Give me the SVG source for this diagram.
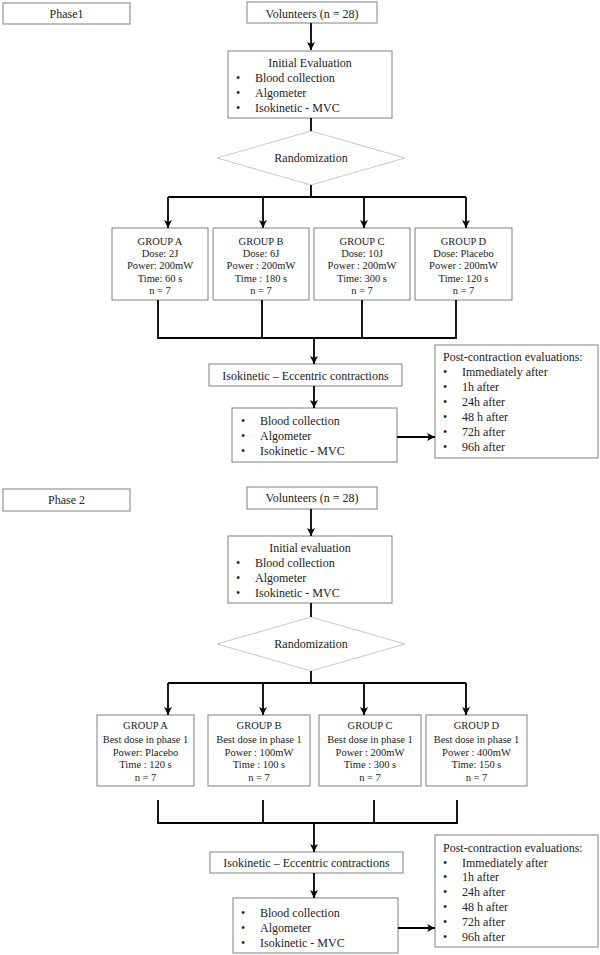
<svg xmlns="http://www.w3.org/2000/svg" width="600" height="955" viewBox="0 0 600 955">
<defs>
<marker id="ah" markerUnits="userSpaceOnUse" markerWidth="9" markerHeight="9" refX="8" refY="4.5" orient="auto">
<path d="M0,0.5 L8,4.5 L0,8.5 L2,4.5 z" fill="#000"/>
</marker>
<style>
.box{fill:#fff;stroke:#808080;stroke-width:1}
.dia{fill:#fff;stroke:#c8c8c8;stroke-width:1}
.t{font-family:"Liberation Serif","Times New Roman",serif;font-size:12px;fill:#222}
.g{font-family:"Liberation Serif","Times New Roman",serif;font-size:10.5px;fill:#222;text-anchor:middle}
.c{text-anchor:middle}
.ln{stroke:#000;stroke-width:1.8;fill:none}
.ar{stroke:#000;stroke-width:1.8;fill:none;marker-end:url(#ah)}
</style>
</defs>
<rect width="600" height="955" fill="#fff"/>

<!-- Phase 1 nodes -->
<g id="phase1-label"><rect class="box" x="3" y="3" width="127" height="21"/><text class="t c" x="66.5" y="18">Phase1</text></g>
<g id="p1-volunteers"><rect class="box" x="247" y="2" width="130" height="21"/><text class="t c" x="312" y="17.5">Volunteers (n = 28)</text></g>
<g id="p1-initial"><rect class="box" x="228" y="51" width="164" height="67"/>
<text class="t c" x="310" y="67">Initial Evaluation</text>
<text class="t" x="236" y="82">•</text><text class="t" x="255" y="82">Blood collection</text>
<text class="t" x="236" y="97">•</text><text class="t" x="255" y="97">Algometer</text>
<text class="t" x="236" y="112">•</text><text class="t" x="255" y="112">Isokinetic - MVC</text></g>
<g id="p1-random"><polygon class="dia" points="311,131 405,158 311,185 217,158"/><text class="t c" x="311" y="162">Randomization</text></g>
<g id="p1-groupA"><rect class="box" x="112" y="228" width="96" height="72"/>
<text class="g" x="160" y="245">GROUP A</text><text class="g" x="160" y="257">Dose: 2J</text><text class="g" x="160" y="269">Power: 200mW</text><text class="g" x="160" y="282">Time: 60 s</text><text class="g" x="160" y="294">n = 7</text></g>
<g id="p1-groupB"><rect class="box" x="213" y="228" width="96" height="72"/>
<text class="g" x="261" y="245">GROUP B</text><text class="g" x="261" y="257">Dose: 6J</text><text class="g" x="261" y="269">Power : 200mW</text><text class="g" x="261" y="282">Time : 180 s</text><text class="g" x="261" y="294">n = 7</text></g>
<g id="p1-groupC"><rect class="box" x="314" y="228" width="96" height="72"/>
<text class="g" x="362" y="245">GROUP C</text><text class="g" x="362" y="257">Dose: 10J</text><text class="g" x="362" y="269">Power : 200mW</text><text class="g" x="362" y="282">Time: 300 s</text><text class="g" x="362" y="294">n = 7</text></g>
<g id="p1-groupD"><rect class="box" x="415" y="228" width="97" height="72"/>
<text class="g" x="463.5" y="245">GROUP D</text><text class="g" x="463.5" y="257">Dose: Placebo</text><text class="g" x="463.5" y="269">Power : 200mW</text><text class="g" x="463.5" y="282">Time: 120 s</text><text class="g" x="463.5" y="294">n = 7</text></g>
<g id="p1-eccentric"><rect class="box" x="209" y="364" width="193" height="22"/><text class="t c" x="305.5" y="379.5">Isokinetic – Eccentric contractions</text></g>
<g id="p1-after"><rect class="box" x="232" y="408" width="165" height="54"/>
<text class="t" x="241" y="425">•</text><text class="t" x="260" y="425">Blood collection</text>
<text class="t" x="241" y="440">•</text><text class="t" x="260" y="440">Algometer</text>
<text class="t" x="241" y="455">•</text><text class="t" x="260" y="455">Isokinetic - MVC</text></g>
<g id="p1-post"><rect class="box" x="435" y="345" width="163" height="113"/>
<text class="t" x="443" y="361">Post-contraction evaluations:</text>
<text class="t" x="443" y="376">•</text><text class="t" x="462" y="376">Immediately after</text>
<text class="t" x="443" y="391">•</text><text class="t" x="462" y="391">1h after</text>
<text class="t" x="443" y="406">•</text><text class="t" x="462" y="406">24h after</text>
<text class="t" x="443" y="421">•</text><text class="t" x="462" y="421">48 h after</text>
<text class="t" x="443" y="436">•</text><text class="t" x="462" y="436">72h after</text>
<text class="t" x="443" y="451">•</text><text class="t" x="462" y="451">96h after</text></g>

<!-- Phase 2 nodes -->
<g id="phase2-label"><rect class="box" x="3" y="489" width="127" height="22"/><text class="t c" x="66.5" y="504">Phase 2</text></g>
<g id="p2-volunteers"><rect class="box" x="247" y="487" width="130" height="22"/><text class="t c" x="312" y="502">Volunteers (n = 28)</text></g>
<g id="p2-initial"><rect class="box" x="228" y="536" width="164" height="67"/>
<text class="t c" x="310" y="552">Initial evaluation</text>
<text class="t" x="236" y="567">•</text><text class="t" x="255" y="567">Blood collection</text>
<text class="t" x="236" y="582">•</text><text class="t" x="255" y="582">Algometer</text>
<text class="t" x="236" y="597">•</text><text class="t" x="255" y="597">Isokinetic - MVC</text></g>
<g id="p2-random"><polygon class="dia" points="311,617 405,644 311,671 217,644"/><text class="t c" x="311" y="648">Randomization</text></g>
<g id="p2-groupA"><rect class="box" x="97" y="715" width="97" height="71"/>
<text class="g" x="145.5" y="728.5">GROUP A</text><text class="g" x="145.5" y="742.5">Best dose in phase 1</text><text class="g" x="145.5" y="755.5">Power: Placebo</text><text class="g" x="145.5" y="767.5">Time : 120 s</text><text class="g" x="145.5" y="780.5">n = 7</text></g>
<g id="p2-groupB"><rect class="box" x="208" y="715" width="102" height="71"/>
<text class="g" x="259" y="728.5">GROUP B</text><text class="g" x="259" y="742.5">Best dose in phase 1</text><text class="g" x="259" y="755.5">Power : 100mW</text><text class="g" x="259" y="767.5">Time : 100 s</text><text class="g" x="259" y="780.5">n = 7</text></g>
<g id="p2-groupC"><rect class="box" x="319" y="715" width="102" height="71"/>
<text class="g" x="370" y="728.5">GROUP C</text><text class="g" x="370" y="742.5">Best dose in phase 1</text><text class="g" x="370" y="755.5">Power : 200mW</text><text class="g" x="370" y="767.5">Time : 300 s</text><text class="g" x="370" y="780.5">n = 7</text></g>
<g id="p2-groupD"><rect class="box" x="426" y="715" width="101" height="71"/>
<text class="g" x="476.5" y="728.5">GROUP D</text><text class="g" x="476.5" y="742.5">Best dose in phase 1</text><text class="g" x="476.5" y="755.5">Power : 400mW</text><text class="g" x="476.5" y="767.5">Time: 150 s</text><text class="g" x="476.5" y="780.5">n = 7</text></g>
<g id="p2-eccentric"><rect class="box" x="210" y="852" width="193" height="21"/><text class="t c" x="306.5" y="867">Isokinetic – Eccentric contractions</text></g>
<g id="p2-after"><rect class="box" x="233" y="898" width="165" height="55"/>
<text class="t" x="241" y="917">•</text><text class="t" x="260" y="917">Blood collection</text>
<text class="t" x="241" y="932">•</text><text class="t" x="260" y="932">Algometer</text>
<text class="t" x="241" y="947">•</text><text class="t" x="260" y="947">Isokinetic - MVC</text></g>
<g id="p2-post"><rect class="box" x="435" y="835" width="163" height="112"/>
<text class="t" x="443" y="852">Post-contraction evaluations:</text>
<text class="t" x="443" y="867">•</text><text class="t" x="462" y="867">Immediately after</text>
<text class="t" x="443" y="881">•</text><text class="t" x="462" y="881">1h after</text>
<text class="t" x="443" y="896">•</text><text class="t" x="462" y="896">24h after</text>
<text class="t" x="443" y="911">•</text><text class="t" x="462" y="911">48 h after</text>
<text class="t" x="443" y="926">•</text><text class="t" x="462" y="926">72h after</text>
<text class="t" x="443" y="941">•</text><text class="t" x="462" y="941">96h after</text></g>

<!-- Connectors -->
<g id="connectors">
<line class="ar" x1="311" y1="23" x2="311" y2="50"/>
<line class="ln" x1="311" y1="118" x2="311" y2="131"/>
<line class="ln" x1="311" y1="185" x2="311" y2="197"/>
<polyline class="ln" points="168,197 466,197"/>
<line class="ar" x1="168" y1="197" x2="168" y2="228"/>
<line class="ar" x1="263" y1="197" x2="263" y2="228"/>
<line class="ar" x1="364" y1="197" x2="364" y2="228"/>
<line class="ar" x1="466" y1="197" x2="466" y2="228"/>
<polyline class="ln" points="158,300 158,338 456,338 456,300"/>
<line class="ln" x1="262" y1="300" x2="262" y2="338"/>
<line class="ln" x1="362" y1="300" x2="362" y2="338"/>
<line class="ar" x1="314" y1="338" x2="314" y2="364"/>
<line class="ar" x1="314" y1="386" x2="314" y2="408"/>
<line class="ar" x1="397" y1="437" x2="435" y2="437"/>

<line class="ar" x1="311" y1="509" x2="311" y2="536"/>
<line class="ln" x1="311" y1="603" x2="311" y2="617"/>
<line class="ln" x1="311" y1="671" x2="311" y2="683"/>
<polyline class="ln" points="168,683 466,683"/>
<line class="ar" x1="168" y1="683" x2="168" y2="715"/>
<line class="ar" x1="263" y1="683" x2="263" y2="715"/>
<line class="ar" x1="364" y1="683" x2="364" y2="715"/>
<line class="ar" x1="466" y1="683" x2="466" y2="715"/>
<polyline class="ln" points="158,800 158,823 457,823 457,800"/>
<line class="ln" x1="263" y1="800" x2="263" y2="823"/>
<line class="ln" x1="374" y1="800" x2="374" y2="823"/>
<line class="ar" x1="314" y1="823" x2="314" y2="852"/>
<line class="ar" x1="314" y1="873" x2="314" y2="898"/>
<line class="ar" x1="398" y1="928" x2="435" y2="928"/>
</g>
</svg>
